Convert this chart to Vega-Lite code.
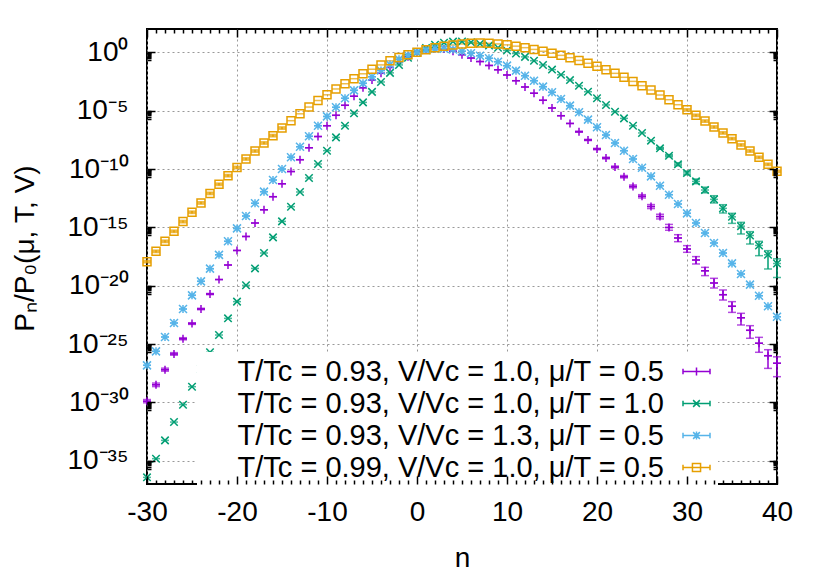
{
  "$schema": "https://vega.github.io/schema/vega-lite/v6.json",
  "width": 630,
  "height": 455,
  "autosize": "none",
  "padding": {"left": 147, "top": 29, "right": 53, "bottom": 97},
  "config": {
    "font": "Liberation Sans",
    "view": {"stroke": "black", "strokeWidth": 2},
    "axis": {
      "domain": false, "grid": false,
      "labelFontSize": 28, "labelColor": "black", "labelFont": "Liberation Sans",
      "titleFontSize": 28, "titleFontWeight": "normal", "titleColor": "black", "titleFont": "Liberation Sans",
      "tickColor": "black", "tickWidth": 1.5,
      "gridColor": "#999999", "gridDash": [2, 3], "gridWidth": 1,
      "labelFlush": false, "labelOverlap": false, "labelBound": false
    }
  },
  "datasets": {
    "pts": [
      {"s":"A","n":-30,"p":1.26e-30},{"s":"A","n":-29,"p":3.16e-29},{"s":"A","n":-28,"p":6.31e-28},{"s":"A","n":-27,"p":1.41e-26},{"s":"A","n":-26,"p":2.82e-25},{"s":"A","n":-25,"p":5.62e-24},{"s":"A","n":-24,"p":1e-22},{"s":"A","n":-23,"p":1.91e-21},{"s":"A","n":-22,"p":3.31e-20},{"s":"A","n":-21,"p":5.89e-19},{"s":"A","n":-20,"p":1.05e-17},{"s":"A","n":-19,"p":1.66e-16},{"s":"A","n":-18,"p":2.34e-15},{"s":"A","n":-17,"p":3.16e-14},{"s":"A","n":-16,"p":4.27e-13},{"s":"A","n":-15,"p":5.37e-12},{"s":"A","n":-14,"p":6.03e-11},{"s":"A","n":-13,"p":6.31e-10},{"s":"A","n":-12,"p":6.61e-9},{"s":"A","n":-11,"p":6.03e-8},{"s":"A","n":-10,"p":5.13e-7},{"s":"A","n":-9,"p":3.98e-6},{"s":"A","n":-8,"p":2.88e-5},{"s":"A","n":-7,"p":1.74e-4},{"s":"A","n":-6,"p":9.12e-4},{"s":"A","n":-5,"p":4.27e-3},{"s":"A","n":-4,"p":1.58e-2},{"s":"A","n":-3,"p":5.13e-2},{"s":"A","n":-2,"p":0.155},{"s":"A","n":-1,"p":0.417},{"s":"A","n":0,"p":1},{"s":"A","n":1,"p":1.66},{"s":"A","n":2,"p":2.09},{"s":"A","n":3,"p":1.91},{"s":"A","n":4,"p":1.26},{"s":"A","n":5,"p":0.631},{"s":"A","n":6,"p":0.324},{"s":"A","n":7,"p":0.162},{"s":"A","n":8,"p":0.0759},{"s":"A","n":9,"p":0.0316},{"s":"A","n":10,"p":0.0115},{"s":"A","n":11,"p":3.72e-3},{"s":"A","n":12,"p":1.07e-3},{"s":"A","n":13,"p":3.16e-4},{"s":"A","n":14,"p":7.76e-5},{"s":"A","n":15,"p":1.70e-5},{"s":"A","n":16,"p":3.72e-6},{"s":"A","n":17,"p":8.13e-7},{"s":"A","n":18,"p":1.58e-7},{"s":"A","n":19,"p":3.09e-8},{"s":"A","n":20,"p":5.13e-9},{"s":"A","n":21,"p":8.71e-10},{"s":"A","n":22,"p":1.48e-10},{"s":"A","n":23,"p":2.19e-11},{"s":"A","n":24,"p":3.24e-12},{"s":"A","n":25,"p":4.57e-13},{"s":"A","n":26,"p":6.03e-14},{"s":"A","n":27,"p":8.32e-15},{"s":"A","n":28,"p":9.77e-16},{"s":"A","n":29,"p":1.23e-16},{"s":"A","n":30,"p":1.38e-17},{"s":"A","n":31,"p":1.58e-18},{"s":"A","n":32,"p":1.86e-19},{"s":"A","n":33,"p":1.70e-20},{"s":"A","n":34,"p":1.70e-21},{"s":"A","n":35,"p":1.70e-22},{"s":"A","n":36,"p":1.78e-23},{"s":"A","n":37,"p":1.48e-24},{"s":"A","n":38,"p":1.17e-25},{"s":"A","n":39,"p":1e-26},{"s":"A","n":40,"p":2.24e-27},
      {"s":"B","n":-30,"p":3.72e-37},{"s":"B","n":-29,"p":1.48e-35},{"s":"B","n":-28,"p":5.50e-34},{"s":"B","n":-27,"p":2.04e-32},{"s":"B","n":-26,"p":6.31e-31},{"s":"B","n":-25,"p":2.19e-29},{"s":"B","n":-24,"p":7.24e-28},{"s":"B","n":-23,"p":1.95e-26},{"s":"B","n":-22,"p":5.89e-25},{"s":"B","n":-21,"p":1.58e-23},{"s":"B","n":-20,"p":4.27e-22},{"s":"B","n":-19,"p":1.07e-20},{"s":"B","n":-18,"p":3.02e-19},{"s":"B","n":-17,"p":6.31e-18},{"s":"B","n":-16,"p":1.38e-16},{"s":"B","n":-15,"p":3.24e-15},{"s":"B","n":-14,"p":5.89e-14},{"s":"B","n":-13,"p":1.07e-12},{"s":"B","n":-12,"p":1.70e-11},{"s":"B","n":-11,"p":2.69e-10},{"s":"B","n":-10,"p":3.72e-9},{"s":"B","n":-9,"p":5.13e-8},{"s":"B","n":-8,"p":5.13e-7},{"s":"B","n":-7,"p":5.89e-6},{"s":"B","n":-6,"p":5.13e-5},{"s":"B","n":-5,"p":4.07e-4},{"s":"B","n":-4,"p":2.88e-3},{"s":"B","n":-3,"p":1.74e-2},{"s":"B","n":-2,"p":8.32e-2},{"s":"B","n":-1,"p":0.339},{"s":"B","n":0,"p":1},{"s":"B","n":1,"p":2.40},{"s":"B","n":2,"p":4.47},{"s":"B","n":3,"p":6.61},{"s":"B","n":4,"p":8.32},{"s":"B","n":5,"p":8.51},{"s":"B","n":6,"p":7.24},{"s":"B","n":7,"p":5.50},{"s":"B","n":8,"p":3.80},{"s":"B","n":9,"p":2.45},{"s":"B","n":10,"p":1.45},{"s":"B","n":11,"p":0.794},{"s":"B","n":12,"p":0.407},{"s":"B","n":13,"p":0.191},{"s":"B","n":14,"p":0.0832},{"s":"B","n":15,"p":0.0331},{"s":"B","n":16,"p":0.0120},{"s":"B","n":17,"p":4.17e-3},{"s":"B","n":18,"p":1.35e-3},{"s":"B","n":19,"p":4.17e-4},{"s":"B","n":20,"p":1.17e-4},{"s":"B","n":21,"p":3.09e-5},{"s":"B","n":22,"p":8.13e-6},{"s":"B","n":23,"p":2.19e-6},{"s":"B","n":24,"p":5.13e-7},{"s":"B","n":25,"p":1.23e-7},{"s":"B","n":26,"p":2.69e-8},{"s":"B","n":27,"p":5.89e-9},{"s":"B","n":28,"p":1.38e-9},{"s":"B","n":29,"p":2.51e-10},{"s":"B","n":30,"p":4.57e-11},{"s":"B","n":31,"p":8.71e-12},{"s":"B","n":32,"p":1.58e-12},{"s":"B","n":33,"p":2.51e-13},{"s":"B","n":34,"p":4.27e-14},{"s":"B","n":35,"p":7.94e-15},{"s":"B","n":36,"p":1.26e-15},{"s":"B","n":37,"p":2.0e-16},{"s":"B","n":38,"p":2.82e-17},{"s":"B","n":39,"p":4.47e-18},{"s":"B","n":40,"p":7.94e-19},
      {"s":"C","n":-30,"p":1.48e-27},{"s":"C","n":-29,"p":2.34e-26},{"s":"C","n":-28,"p":3.98e-25},{"s":"C","n":-27,"p":6.31e-24},{"s":"C","n":-26,"p":1e-22},{"s":"C","n":-25,"p":1.48e-21},{"s":"C","n":-24,"p":2.34e-20},{"s":"C","n":-23,"p":2.88e-19},{"s":"C","n":-22,"p":4.37e-18},{"s":"C","n":-21,"p":6.31e-17},{"s":"C","n":-20,"p":8.13e-16},{"s":"C","n":-19,"p":9.33e-15},{"s":"C","n":-18,"p":1.15e-13},{"s":"C","n":-17,"p":1.15e-12},{"s":"C","n":-16,"p":1.15e-11},{"s":"C","n":-15,"p":1e-10},{"s":"C","n":-14,"p":1e-9},{"s":"C","n":-13,"p":8.13e-9},{"s":"C","n":-12,"p":6.31e-8},{"s":"C","n":-11,"p":5.13e-7},{"s":"C","n":-10,"p":3.24e-6},{"s":"C","n":-9,"p":1.95e-5},{"s":"C","n":-8,"p":1.15e-4},{"s":"C","n":-7,"p":5.50e-4},{"s":"C","n":-6,"p":2.19e-3},{"s":"C","n":-5,"p":7.94e-3},{"s":"C","n":-4,"p":2.82e-2},{"s":"C","n":-3,"p":8.91e-2},{"s":"C","n":-2,"p":0.251},{"s":"C","n":-1,"p":0.562},{"s":"C","n":0,"p":1},{"s":"C","n":1,"p":1.58},{"s":"C","n":2,"p":2.0},{"s":"C","n":3,"p":2.09},{"s":"C","n":4,"p":1.78},{"s":"C","n":5,"p":1.26},{"s":"C","n":6,"p":0.832},{"s":"C","n":7,"p":0.513},{"s":"C","n":8,"p":0.309},{"s":"C","n":9,"p":0.158},{"s":"C","n":10,"p":0.0724},{"s":"C","n":11,"p":0.0269},{"s":"C","n":12,"p":0.01},{"s":"C","n":13,"p":3.72e-3},{"s":"C","n":14,"p":1.15e-3},{"s":"C","n":15,"p":3.72e-4},{"s":"C","n":16,"p":1e-4},{"s":"C","n":17,"p":2.69e-5},{"s":"C","n":18,"p":7.24e-6},{"s":"C","n":19,"p":1.70e-6},{"s":"C","n":20,"p":3.72e-7},{"s":"C","n":21,"p":8.13e-8},{"s":"C","n":22,"p":1.70e-8},{"s":"C","n":23,"p":3.72e-9},{"s":"C","n":24,"p":7.24e-10},{"s":"C","n":25,"p":1.29e-10},{"s":"C","n":26,"p":2.34e-11},{"s":"C","n":27,"p":3.72e-12},{"s":"C","n":28,"p":6.31e-13},{"s":"C","n":29,"p":1e-13},{"s":"C","n":30,"p":1.58e-14},{"s":"C","n":31,"p":2.34e-15},{"s":"C","n":32,"p":3.24e-16},{"s":"C","n":33,"p":4.57e-17},{"s":"C","n":34,"p":6.31e-18},{"s":"C","n":35,"p":8.13e-19},{"s":"C","n":36,"p":1e-19},{"s":"C","n":37,"p":1.23e-20},{"s":"C","n":38,"p":1.38e-21},{"s":"C","n":39,"p":1.70e-22},{"s":"C","n":40,"p":2.19e-23},
      {"s":"D","n":-30,"p":1.15e-18},{"s":"D","n":-29,"p":8.71e-18},{"s":"D","n":-28,"p":6.31e-17},{"s":"D","n":-27,"p":4.57e-16},{"s":"D","n":-26,"p":3.09e-15},{"s":"D","n":-25,"p":1.95e-14},{"s":"D","n":-24,"p":1.23e-13},{"s":"D","n":-23,"p":8.13e-13},{"s":"D","n":-22,"p":4.90e-12},{"s":"D","n":-21,"p":2.69e-11},{"s":"D","n":-20,"p":1.35e-10},{"s":"D","n":-19,"p":7.24e-10},{"s":"D","n":-18,"p":3.47e-9},{"s":"D","n":-17,"p":1.70e-8},{"s":"D","n":-16,"p":7.24e-8},{"s":"D","n":-15,"p":3.24e-7},{"s":"D","n":-14,"p":1.38e-6},{"s":"D","n":-13,"p":5.37e-6},{"s":"D","n":-12,"p":2.04e-5},{"s":"D","n":-11,"p":7.41e-5},{"s":"D","n":-10,"p":2.29e-4},{"s":"D","n":-9,"p":7.24e-4},{"s":"D","n":-8,"p":2.04e-3},{"s":"D","n":-7,"p":5.50e-3},{"s":"D","n":-6,"p":1.45e-2},{"s":"D","n":-5,"p":3.55e-2},{"s":"D","n":-4,"p":8.32e-2},{"s":"D","n":-3,"p":0.186},{"s":"D","n":-2,"p":0.355},{"s":"D","n":-1,"p":0.631},{"s":"D","n":0,"p":1},{"s":"D","n":1,"p":1.66},{"s":"D","n":2,"p":2.45},{"s":"D","n":3,"p":3.31},{"s":"D","n":4,"p":4.27},{"s":"D","n":5,"p":5.25},{"s":"D","n":6,"p":5.89},{"s":"D","n":7,"p":6.17},{"s":"D","n":8,"p":5.89},{"s":"D","n":9,"p":5.25},{"s":"D","n":10,"p":4.37},{"s":"D","n":11,"p":3.39},{"s":"D","n":12,"p":2.51},{"s":"D","n":13,"p":1.78},{"s":"D","n":14,"p":1.23},{"s":"D","n":15,"p":0.832},{"s":"D","n":16,"p":0.550},{"s":"D","n":17,"p":0.347},{"s":"D","n":18,"p":0.204},{"s":"D","n":19,"p":0.115},{"s":"D","n":20,"p":0.0631},{"s":"D","n":21,"p":0.0324},{"s":"D","n":22,"p":0.0158},{"s":"D","n":23,"p":7.24e-3},{"s":"D","n":24,"p":3.24e-3},{"s":"D","n":25,"p":1.38e-3},{"s":"D","n":26,"p":5.89e-4},{"s":"D","n":27,"p":2.19e-4},{"s":"D","n":28,"p":8.71e-5},{"s":"D","n":29,"p":3.24e-5},{"s":"D","n":30,"p":1.17e-5},{"s":"D","n":31,"p":3.98e-6},{"s":"D","n":32,"p":1.29e-6},{"s":"D","n":33,"p":3.98e-7},{"s":"D","n":34,"p":1.23e-7},{"s":"D","n":35,"p":3.98e-8},{"s":"D","n":36,"p":1.15e-8},{"s":"D","n":37,"p":3.47e-9},{"s":"D","n":38,"p":1e-9},{"s":"D","n":39,"p":2.51e-10},{"s":"D","n":40,"p":6.31e-11}
    ],
    "err": [
      {"s":"A","n":-30,"lo":9.12e-31,"hi":1.74e-30},{"s":"A","n":-29,"lo":2.24e-29,"hi":4.47e-29},{"s":"A","n":-28,"lo":4.68e-28,"hi":8.51e-28},{"s":"A","n":-27,"lo":1.10e-26,"hi":1.82e-26},{"s":"A","n":-26,"lo":2.29e-25,"hi":3.47e-25},{"s":"A","n":-25,"lo":4.79e-24,"hi":6.61e-24},{"s":"A","n":-24,"lo":8.71e-23,"hi":1.15e-22},{"s":"A","n":-23,"lo":1.70e-21,"hi":2.14e-21},
      {"s":"A","n":18,"lo":1.45e-7,"hi":1.74e-7},{"s":"A","n":19,"lo":2.75e-8,"hi":3.47e-8},{"s":"A","n":20,"lo":4.47e-9,"hi":5.89e-9},{"s":"A","n":21,"lo":7.41e-10,"hi":1.02e-9},{"s":"A","n":22,"lo":1.23e-10,"hi":1.78e-10},{"s":"A","n":23,"lo":1.74e-11,"hi":2.75e-11},{"s":"A","n":24,"lo":2.45e-12,"hi":4.27e-12},{"s":"A","n":25,"lo":3.31e-13,"hi":6.31e-13},{"s":"A","n":26,"lo":4.07e-14,"hi":8.91e-14},{"s":"A","n":27,"lo":5.25e-15,"hi":1.32e-14},{"s":"A","n":28,"lo":5.62e-16,"hi":1.78e-15},{"s":"A","n":29,"lo":5.89e-17,"hi":2.34e-16},{"s":"A","n":30,"lo":7.24e-18,"hi":2.69e-17},{"s":"A","n":31,"lo":7.24e-19,"hi":3.09e-18},{"s":"A","n":32,"lo":7.24e-20,"hi":3.72e-19},{"s":"A","n":33,"lo":6.31e-21,"hi":4.27e-20},{"s":"A","n":34,"lo":5.89e-22,"hi":4.27e-21},{"s":"A","n":35,"lo":5.13e-23,"hi":4.27e-22},{"s":"A","n":36,"lo":4.27e-24,"hi":4.27e-23},{"s":"A","n":37,"lo":3.09e-25,"hi":3.72e-24},{"s":"A","n":38,"lo":1.95e-26,"hi":3.72e-25},{"s":"A","n":39,"lo":8.13e-28,"hi":3.24e-26},{"s":"A","n":40,"lo":1.58e-28,"hi":7.94e-27},
      {"s":"B","n":27,"lo":4.90e-9,"hi":7.08e-9},{"s":"B","n":28,"lo":1.10e-9,"hi":1.74e-9},{"s":"B","n":29,"lo":1.86e-10,"hi":3.39e-10},{"s":"B","n":30,"lo":3.16e-11,"hi":6.61e-11},{"s":"B","n":31,"lo":5.50e-12,"hi":1.38e-11},{"s":"B","n":32,"lo":9.12e-13,"hi":2.75e-12},{"s":"B","n":33,"lo":1.23e-13,"hi":5.13e-13},{"s":"B","n":34,"lo":1.70e-14,"hi":8.71e-14},{"s":"B","n":35,"lo":2.19e-15,"hi":1.58e-14},{"s":"B","n":36,"lo":2.69e-16,"hi":2.69e-15},{"s":"B","n":37,"lo":3.72e-17,"hi":4.27e-16},{"s":"B","n":38,"lo":3.72e-18,"hi":6.31e-17},{"s":"B","n":39,"lo":2.69e-19,"hi":1e-17},{"s":"B","n":40,"lo":5.01e-20,"hi":2.0e-18},
      {"s":"D","n":-30,"lo":9.13e-19,"hi":1.45e-18},{"s":"D","n":-29,"lo":6.92e-18,"hi":1.10e-17},{"s":"D","n":-28,"lo":5.01e-17,"hi":7.94e-17},{"s":"D","n":-27,"lo":3.63e-16,"hi":5.75e-16},{"s":"D","n":-26,"lo":2.45e-15,"hi":3.89e-15},{"s":"D","n":-25,"lo":1.55e-14,"hi":2.46e-14},{"s":"D","n":-24,"lo":9.77e-14,"hi":1.55e-13},{"s":"D","n":-23,"lo":6.46e-13,"hi":1.02e-12},{"s":"D","n":-22,"lo":3.89e-12,"hi":6.17e-12},{"s":"D","n":-21,"lo":2.14e-11,"hi":3.39e-11},{"s":"D","n":-20,"lo":1.07e-10,"hi":1.70e-10},{"s":"D","n":-19,"lo":5.75e-10,"hi":9.12e-10},{"s":"D","n":-18,"lo":2.76e-9,"hi":4.37e-9},{"s":"D","n":-17,"lo":1.35e-8,"hi":2.14e-8},{"s":"D","n":-16,"lo":5.75e-8,"hi":9.12e-8},{"s":"D","n":-15,"lo":2.57e-7,"hi":4.08e-7},
      {"s":"D","n":30,"lo":9.29e-6,"hi":1.47e-5},{"s":"D","n":31,"lo":3.16e-6,"hi":5.01e-6},{"s":"D","n":32,"lo":1.02e-6,"hi":1.62e-6},{"s":"D","n":33,"lo":3.16e-7,"hi":5.01e-7},{"s":"D","n":34,"lo":9.77e-8,"hi":1.55e-7},{"s":"D","n":35,"lo":3.16e-8,"hi":5.01e-8},{"s":"D","n":36,"lo":9.13e-9,"hi":1.45e-8},{"s":"D","n":37,"lo":2.76e-9,"hi":4.37e-9},{"s":"D","n":38,"lo":7.94e-10,"hi":1.26e-9},{"s":"D","n":39,"lo":1.99e-10,"hi":3.16e-10},{"s":"D","n":40,"lo":5.01e-11,"hi":7.94e-11}
    ],
    "leg": [
      {"s": "T/Tc = 0.93, V/Vc = 1.0, μ/T = 0.5"},
      {"s": "T/Tc = 0.93, V/Vc = 1.0, μ/T = 1.0"},
      {"s": "T/Tc = 0.93, V/Vc = 1.3, μ/T = 0.5"},
      {"s": "T/Tc = 0.99, V/Vc = 1.0, μ/T = 0.5"}
    ]
  },
  "layer": [
    {
      "data": {"name": "err"},
      "mark": {"type": "rule", "strokeWidth": 1.5},
      "encoding": {
        "x": {"field": "n", "type": "quantitative",
          "scale": {"domain": [-30, 40], "nice": false, "zero": false},
          "axis": {"orient": "bottom", "values": [-30, -20, -10, 0, 10, 20, 30, 40], "grid": true, "ticks": false, "labels": false, "title": null, "zindex": 0}},
        "y": {"field": "lo", "type": "quantitative",
          "scale": {"type": "log", "domain": [1e-37, 100], "nice": false},
          "axis": {"orient": "left", "values": [1e-35, 1e-30, 1e-25, 1e-20, 1e-15, 1e-10, 1e-5, 1], "grid": true, "ticks": false, "labels": false, "title": null, "zindex": 0}},
        "y2": {"field": "hi"},
        "stroke": {"field": "s", "type": "nominal", "scale": {"domain": ["A", "B", "C", "D"], "range": ["#9400d3", "#009e73", "#56b4e9", "#e69f00"]}, "legend": null}
      }
    },
    {
      "data": {"name": "err"},
      "mark": {"type": "tick", "orient": "horizontal", "size": 8, "thickness": 1.5},
      "encoding": {
        "x": {"field": "n", "type": "quantitative",
          "scale": {"domain": [-30, 40], "nice": false, "zero": false},
          "axis": {"orient": "bottom", "values": [-29,-28,-27,-26,-25,-24,-23,-22,-21,-19,-18,-17,-16,-15,-14,-13,-12,-11,-9,-8,-7,-6,-5,-4,-3,-2,-1,1,2,3,4,5,6,7,8,9,11,12,13,14,15,16,17,18,19,21,22,23,24,25,26,27,28,29,31,32,33,34,35,36,37,38,39],
            "tickSize": -4, "labels": false, "title": null, "zindex": 1}},
        "y": {"field": "lo", "type": "quantitative",
          "scale": {"type": "log", "domain": [1e-37, 100], "nice": false},
          "axis": {"orient": "left", "values": [0.2,0.3,0.4,0.5,0.6,0.7,0.8,0.9,2e-6,3e-6,4e-6,5e-6,6e-6,7e-6,8e-6,9e-6,2e-11,3e-11,4e-11,5e-11,6e-11,7e-11,8e-11,9e-11,2e-16,3e-16,4e-16,5e-16,6e-16,7e-16,8e-16,9e-16,2e-21,3e-21,4e-21,5e-21,6e-21,7e-21,8e-21,9e-21,2e-26,3e-26,4e-26,5e-26,6e-26,7e-26,8e-26,9e-26,2e-31,3e-31,4e-31,5e-31,6e-31,7e-31,8e-31,9e-31,2e-36,3e-36,4e-36,5e-36,6e-36,7e-36,8e-36,9e-36],
            "tickSize": -4, "labels": false, "title": null, "zindex": 1}},
        "fill": {"field": "s", "type": "nominal", "scale": {"domain": ["A", "B", "C", "D"], "range": ["#9400d3", "#009e73", "#56b4e9", "#e69f00"]}, "legend": null}
      }
    },
    {
      "data": {"name": "err"},
      "mark": {"type": "tick", "orient": "horizontal", "size": 8, "thickness": 1.5},
      "encoding": {
        "x": {"field": "n", "type": "quantitative",
          "scale": {"domain": [-30, 40], "nice": false, "zero": false},
          "axis": {"orient": "top", "values": [-30, -20, -10, 0, 10, 20, 30, 40], "tickSize": -8, "labels": false, "title": null, "zindex": 1}},
        "y": {"field": "hi", "type": "quantitative",
          "scale": {"type": "log", "domain": [1e-37, 100], "nice": false},
          "axis": {"orient": "right", "values": [1e-35, 1e-30, 1e-25, 1e-20, 1e-15, 1e-10, 1e-5, 1], "tickSize": -8, "labels": false, "title": null, "zindex": 1}},
        "fill": {"field": "s", "type": "nominal", "scale": {"domain": ["A", "B", "C", "D"], "range": ["#9400d3", "#009e73", "#56b4e9", "#e69f00"]}, "legend": null}
      }
    },
    {
      "data": {"name": "pts"},
      "mark": {"type": "tick", "orient": "horizontal", "size": 8, "thickness": 1.5},
      "encoding": {
        "x": {"field": "n", "type": "quantitative",
          "scale": {"domain": [-30, 40], "nice": false, "zero": false},
          "axis": {"orient": "top", "values": [-29,-28,-27,-26,-25,-24,-23,-22,-21,-19,-18,-17,-16,-15,-14,-13,-12,-11,-9,-8,-7,-6,-5,-4,-3,-2,-1,1,2,3,4,5,6,7,8,9,11,12,13,14,15,16,17,18,19,21,22,23,24,25,26,27,28,29,31,32,33,34,35,36,37,38,39],
            "tickSize": -4, "labels": false, "title": null, "zindex": 1}},
        "y": {"field": "p", "type": "quantitative",
          "scale": {"type": "log", "domain": [1e-37, 100], "nice": false},
          "axis": {"orient": "right", "values": [0.2,0.3,0.4,0.5,0.6,0.7,0.8,0.9,2e-6,3e-6,4e-6,5e-6,6e-6,7e-6,8e-6,9e-6,2e-11,3e-11,4e-11,5e-11,6e-11,7e-11,8e-11,9e-11,2e-16,3e-16,4e-16,5e-16,6e-16,7e-16,8e-16,9e-16,2e-21,3e-21,4e-21,5e-21,6e-21,7e-21,8e-21,9e-21,2e-26,3e-26,4e-26,5e-26,6e-26,7e-26,8e-26,9e-26,2e-31,3e-31,4e-31,5e-31,6e-31,7e-31,8e-31,9e-31,2e-36,3e-36,4e-36,5e-36,6e-36,7e-36,8e-36,9e-36],
            "tickSize": -4, "labels": false, "title": null, "zindex": 1}},
        "fill": {"field": "s", "type": "nominal", "scale": {"domain": ["A", "B", "C", "D"], "range": ["#9400d3", "#009e73", "#56b4e9", "#e69f00"]}, "legend": null}
      }
    },
    {
      "data": {"name": "pts"},
      "transform": [{"filter": "datum.s == 'A'"}],
      "mark": {"type": "point", "shape": "M-1,0H1M0,-1V1", "size": 64, "strokeWidth": 1.5, "color": "#9400d3", "opacity": 1},
      "encoding": {
        "x": {"field": "n", "type": "quantitative", "scale": {"domain": [-30, 40], "nice": false, "zero": false},
          "axis": {"orient": "bottom", "values": [-30, -20, -10, 0, 10, 20, 30, 40], "labelExpr": "datum.value + ''",
            "tickSize": -8, "labelPadding": 22, "zindex": 1,
            "title": "n", "titleX": 315, "titleY": 82, "titleBaseline": "alphabetic", "titleAlign": "center"}},
        "y": {"field": "p", "type": "quantitative", "scale": {"type": "log", "domain": [1e-37, 100], "nice": false},
          "axis": {"orient": "left", "values": [1e-35, 1e-30, 1e-25, 1e-20, 1e-15, 1e-10, 1e-5, 1],
            "labelExpr": "datum.value >= 0.5 ? '10⁰' : datum.value >= 5e-6 ? '10⁻⁵' : datum.value >= 5e-11 ? '10⁻¹⁰' : datum.value >= 5e-16 ? '10⁻¹⁵' : datum.value >= 5e-21 ? '10⁻²⁰' : datum.value >= 5e-26 ? '10⁻²⁵' : datum.value >= 5e-31 ? '10⁻³⁰' : '10⁻³⁵'",
            "tickSize": -8, "labelPadding": 27, "zindex": 1,
            "title": "Pₙ/P₀(μ, T, V)", "titleX": -122, "titleY": 219, "titleAngle": -90, "titleAlign": "center", "titleBaseline": "middle"}}
      }
    },
    {
      "data": {"name": "pts"},
      "transform": [{"filter": "datum.s == 'B'"}],
      "mark": {"type": "point", "shape": "M-1,-1L1,1M-1,1L1,-1", "size": 56, "strokeWidth": 1.5, "color": "#009e73", "opacity": 1},
      "encoding": {
        "x": {"field": "n", "type": "quantitative", "scale": {"domain": [-30, 40], "nice": false, "zero": false}, "axis": null},
        "y": {"field": "p", "type": "quantitative", "scale": {"type": "log", "domain": [1e-37, 100], "nice": false}, "axis": null}
      }
    },
    {
      "data": {"name": "pts"},
      "transform": [{"filter": "datum.s == 'C'"}],
      "mark": {"type": "point", "shape": "M-1,0H1M0,-1V1M-1,-1L1,1M-1,1L1,-1", "size": 64, "strokeWidth": 1.5, "color": "#56b4e9", "opacity": 1},
      "encoding": {
        "x": {"field": "n", "type": "quantitative", "scale": {"domain": [-30, 40], "nice": false, "zero": false}, "axis": null},
        "y": {"field": "p", "type": "quantitative", "scale": {"type": "log", "domain": [1e-37, 100], "nice": false}, "axis": null}
      }
    },
    {
      "data": {"name": "pts"},
      "transform": [{"filter": "datum.s == 'D'"}],
      "mark": {"type": "point", "shape": "M-1,-1H1V1H-1Z", "size": 64, "strokeWidth": 1.5, "color": "#e69f00", "opacity": 1},
      "encoding": {
        "x": {"field": "n", "type": "quantitative", "scale": {"domain": [-30, 40], "nice": false, "zero": false}, "axis": null},
        "y": {"field": "p", "type": "quantitative", "scale": {"type": "log", "domain": [1e-37, 100], "nice": false}, "axis": null}
      }
    },
    {
      "data": {"name": "leg"},
      "mark": {"type": "point", "filled": false, "opacity": 0},
      "encoding": {
        "color": {"field": "s", "type": "nominal",
          "scale": {"domain": ["T/Tc = 0.93, V/Vc = 1.0, μ/T = 0.5", "T/Tc = 0.93, V/Vc = 1.0, μ/T = 1.0", "T/Tc = 0.93, V/Vc = 1.3, μ/T = 0.5", "T/Tc = 0.99, V/Vc = 1.0, μ/T = 0.5"],
            "range": ["#9400d3", "#009e73", "#56b4e9", "#e69f00"]},
          "legend": {"title": null, "orient": "none", "legendX": 50, "legendY": 323, "padding": 5, "zindex": 0,
            "fillColor": "white", "labelFontSize": 29, "labelFont": "Liberation Sans", "labelColor": "black", "labelLimit": 700,
            "labelAlign": "right", "labelOffset": -47, "symbolOffset": 480, "symbolSize": 729,
            "symbolStrokeWidth": 1.5, "symbolOpacity": 1, "rowPadding": 2}},
        "shape": {"field": "s", "type": "nominal",
          "scale": {"domain": ["T/Tc = 0.93, V/Vc = 1.0, μ/T = 0.5", "T/Tc = 0.93, V/Vc = 1.0, μ/T = 1.0", "T/Tc = 0.93, V/Vc = 1.3, μ/T = 0.5", "T/Tc = 0.99, V/Vc = 1.0, μ/T = 0.5"],
            "range": ["M-1,0H1M-1,-0.2V0.2M1,-0.2V0.2M0,-0.3V0.3", "M-1,0H1M-1,-0.2V0.2M1,-0.2V0.2M-0.25,-0.25L0.25,0.25M-0.25,0.25L0.25,-0.25", "M-1,0H1M-1,-0.2V0.2M1,-0.2V0.2M0,-0.3V0.3M-0.25,-0.25L0.25,0.25M-0.25,0.25L0.25,-0.25", "M-1,0H1M-1,-0.2V0.2M1,-0.2V0.2M-0.3,-0.3H0.3V0.3H-0.3Z"]},
          "legend": {"title": null, "orient": "none", "legendX": 50, "legendY": 323, "padding": 5, "zindex": 0,
            "fillColor": "white", "labelFontSize": 29, "labelFont": "Liberation Sans", "labelColor": "black", "labelLimit": 700,
            "labelAlign": "right", "labelOffset": -47, "symbolOffset": 480, "symbolSize": 729,
            "symbolStrokeWidth": 1.5, "symbolOpacity": 1, "rowPadding": 2}}
      }
    }
  ],
  "resolve": {"axis": {"x": "independent", "y": "independent"}}
}
